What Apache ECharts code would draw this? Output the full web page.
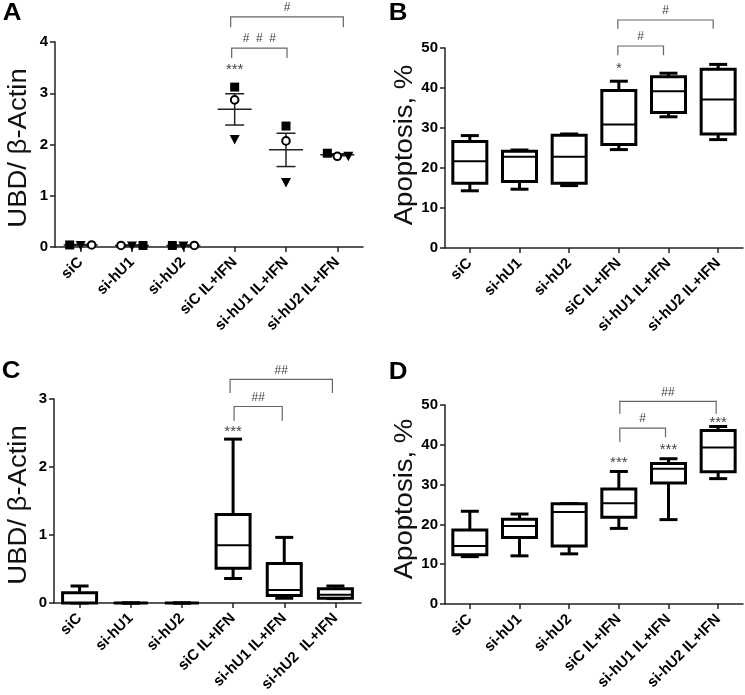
<!DOCTYPE html>
<html><head><meta charset="utf-8">
<script src="https://cdn.jsdelivr.net/npm/echarts@6/dist/echarts.min.js"></script>
<style>html,body{margin:0;padding:0;background:#fff}#c{width:745px;height:695px}</style>
</head><body><div id="c"></div>
<script>
// ---------- data ----------
const categoriesTop = ['siC','si-hU1','si-hU2','siC IL+IFN','si-hU1 IL+IFN','si-hU2 IL+IFN'];
const categoriesC = ['siC','si-hU1','si-hU2','siC IL+IFN','si-hU1 IL+IFN','si-hU2  IL+IFN'];
const categoriesD = ['siC','si-hU1','si-hU2','siC IL+IFN','si-hU1 IL+IFN','si-hU2 IL+IFN'];

// Panel A: individual points (three replicates) and mean ± SEM
const squareA   = [0.04, 0.03, 0.03, 3.12, 2.36, 1.83];
const triangleA = [0.03, 0.02, 0.02, 2.10, 1.26, 1.77];
const circleA   = [0.04, 0.03, 0.03, 2.87, 2.07, 1.77];
const meanA     = [0.04, 0.03, 0.03, 2.69, 1.90, 1.80];
const semLowA   = [0.03, 0.02, 0.02, 2.38, 1.57, 1.78];
const semHighA  = [0.05, 0.04, 0.04, 2.99, 2.22, 1.82];

// Box plots: [min, Q1, median, Q3, max]
const boxB = [
  [14.3, 16.2, 21.7, 26.6, 28.1],
  [14.7, 16.6, 22.8, 24.2, 24.5],
  [15.6, 16.2, 22.8, 28.2, 28.5],
  [24.6, 25.9, 30.9, 39.4, 41.7],
  [32.8, 33.9, 39.2, 42.8, 43.7],
  [27.1, 28.5, 37.1, 44.7, 45.9]
];
const boxC = [
  [0, 0, 0, 0.15, 0.25],
  [0, 0, 0, 0, 0],
  [0, 0, 0, 0, 0],
  [0.36, 0.51, 0.85, 1.30, 2.41],
  [0.07, 0.11, 0.19, 0.58, 0.965],
  [0.065, 0.07, 0.12, 0.21, 0.25]
];
const boxD = [
  [11.9, 12.4, 14.6, 18.6, 23.3],
  [12.1, 16.7, 19.6, 21.3, 22.6],
  [12.6, 14.6, 23.1, 25.2, 25.2],
  [19.0, 21.8, 25.3, 28.9, 33.3],
  [21.2, 30.4, 34.0, 35.3, 36.5],
  [31.5, 33.2, 39.3, 43.6, 44.6]
];

// Significance brackets: [fromCat, toCat, topValue, leftLegEnd, rightLegEnd]
const bracketsA = [[3, 5, 4.49, 4.29, 4.29], [3, 4, 3.88, 3.69, 3.69]];
const bracketTextA = ['#', '#  #  #'];
const bracketsB = [[3, 5, 57.0, 54.8, 54.8], [3, 4, 50.5, 48.2, 48.2]];
const bracketTextB = ['#', '#'];
const bracketsC = [[3, 5, 3.29, 3.09, 3.09], [3, 4, 2.89, 2.68, 2.68]];
const bracketTextC = ['##', '##'];
const bracketsD = [[3, 5, 50.9, 47.8, 47.8], [3, 4, 44.2, 40.7, 41.9]];
const bracketTextD = ['##', '#'];
// Star annotations: [cat, value]
const starsA = [[3, 3.51]]; const starTextA = ['***'];
const starsB = [[3, 45.5]]; const starTextB = ['*'];
const starsC = [[3, 2.56]]; const starTextC = ['***'];
const starsD = [[3, 36.3], [4, 39.6], [5, 46.3]]; const starTextD = ['***', '***', '***'];

// ---------- styling / layout ----------
const FONT = "'Liberation Sans', Arial, Helvetica, sans-serif";
const markerOffsetA = { // horizontal jitter (px) per group
  square:   [-11, 11, -11, 0, 0, -10],
  triangle: [0, 0, 0, 0, 0, 11],
  circle:   [11, -11, 11, 0, 0, 0]
};
const bracketNudge = { A: [[-4, 6], [-3, 1]], B: [[-1, -5], [-1, -5]], C: [[-3, -3], [1, -2]], D: [[1, -2], [1, -3]] };

const grids = [
  { left: 55, top: 42, width: 308, height: 205 },
  { left: 445, top: 48, width: 298, height: 200 },
  { left: 54, top: 399, width: 307, height: 204 },
  { left: 445, top: 405, width: 298, height: 199 }
].map(g => Object.assign({ outerBoundsMode: 'none', containLabel: false }, g));

const axisLine = { show: true, lineStyle: { color: '#222', width: 1.5 } };
function xAxis(gi, cats) {
  return {
    type: 'category', gridIndex: gi, data: cats, boundaryGap: true,
    axisLine: axisLine,
    axisTick: { show: true, alignWithLabel: true, length: 5, lineStyle: { color: '#222', width: 1.5 } },
    axisLabel: { interval: 0, rotate: 45, margin: 13, fontFamily: FONT, fontWeight: 'bold', fontSize: 15, color: '#000' },
    splitLine: { show: false }
  };
}
function yAxis(gi, max, interval) {
  return {
    type: 'value', gridIndex: gi, min: 0, max: max, interval: interval,
    axisLine: axisLine,
    axisTick: { show: true, length: 5, lineStyle: { color: '#222', width: 1.5 } },
    axisLabel: { margin: 7, fontFamily: FONT, fontWeight: 'bold', fontSize: 15, color: '#000' },
    splitLine: { show: false }
  };
}

function boxRender(params, api) {
  const i = api.value(0);
  const v = [api.value(1), api.value(2), api.value(3), api.value(4), api.value(5)];
  const cx = api.coord([i, 0])[0];
  const y = val => api.coord([i, val])[1];
  const hw = 17, cw = 9;
  const st = { stroke: '#000', lineWidth: 3, fill: null };
  return {
    type: 'group', children: [
      { type: 'line', shape: { x1: cx, y1: y(v[0]), x2: cx, y2: y(v[1]) }, style: st },
      { type: 'line', shape: { x1: cx, y1: y(v[3]), x2: cx, y2: y(v[4]) }, style: st },
      { type: 'line', shape: { x1: cx - cw, y1: y(v[0]), x2: cx + cw, y2: y(v[0]) }, style: st },
      { type: 'line', shape: { x1: cx - cw, y1: y(v[4]), x2: cx + cw, y2: y(v[4]) }, style: st },
      { type: 'rect', shape: { x: cx - hw, y: y(v[3]), width: 2 * hw, height: y(v[1]) - y(v[3]) }, style: { stroke: '#000', lineWidth: 3, fill: '#fff' } },
      { type: 'line', shape: { x1: cx - hw, y1: y(v[2]), x2: cx + hw, y2: y(v[2]) }, style: { stroke: '#000', lineWidth: 2 } }
    ]
  };
}
function boxSeries(gi, box) {
  return {
    type: 'custom', xAxisIndex: gi, yAxisIndex: gi, clip: false,
    data: box.map((b, i) => [i].concat(b)),
    encode: { x: 0, y: [1, 2, 3, 4, 5] },
    renderItem: boxRender, z: 3
  };
}
function bracketSeries(gi, list, texts, nudge) {
  return {
    type: 'custom', xAxisIndex: gi, yAxisIndex: gi, clip: false, silent: true, z: 4,
    data: list.map(b => [b[0], b[2]]),
    encode: { x: 0, y: 1 },
    renderItem: function (params, api) {
      const b = list[params.dataIndex];
      const nd = nudge[params.dataIndex];
      const x1 = api.coord([b[0], 0])[0] + nd[0];
      const x2 = api.coord([b[1], 0])[0] + nd[1];
      const yt = api.coord([b[0], b[2]])[1];
      const yl = api.coord([b[0], b[3]])[1];
      const yr = api.coord([b[0], b[4]])[1];
      return {
        type: 'group', children: [
          { type: 'polyline', shape: { points: [[x1, yl], [x1, yt], [x2, yt], [x2, yr]] }, style: { stroke: '#666', lineWidth: 1.2, fill: null } },
          { type: 'text', style: { text: texts[params.dataIndex], x: (x1 + x2) / 2, y: yt - 3, align: 'center', verticalAlign: 'bottom', textAlign: 'center', textVerticalAlign: 'bottom', font: '12px ' + FONT, fill: '#444' } }
        ]
      };
    }
  };
}
function starSeries(gi, list, texts) {
  return {
    type: 'custom', xAxisIndex: gi, yAxisIndex: gi, clip: false, silent: true, z: 4,
    data: list, encode: { x: 0, y: 1 },
    renderItem: function (params, api) {
      const p = api.coord([api.value(0), api.value(1)]);
      return { type: 'text', style: { text: texts[params.dataIndex], x: p[0], y: p[1] + 3, align: 'center', verticalAlign: 'middle', textAlign: 'center', textVerticalAlign: 'middle', font: '15px ' + FONT, fill: '#444' } };
    }
  };
}
function markerSeries(values, shape) {
  return {
    type: 'custom', xAxisIndex: 0, yAxisIndex: 0, clip: false, z: 5,
    data: values.map((v, i) => [i, v]), encode: { x: 0, y: 1 },
    renderItem: function (params, api) {
      const i = api.value(0);
      const p = api.coord([i, api.value(1)]);
      const cx = p[0] + markerOffsetA[shape][i], cy = p[1];
      if (shape === 'square') return { type: 'rect', shape: { x: cx - 4.5, y: cy - 4.5, width: 9, height: 9 }, style: { fill: '#000' } };
      if (shape === 'triangle') return { type: 'polygon', shape: { points: [[cx - 5, cy - 4.5], [cx + 5, cy - 4.5], [cx, cy + 5]] }, style: { fill: '#000' } };
      return { type: 'circle', shape: { cx: cx, cy: cy, r: 3.8 }, style: { fill: '#fff', stroke: '#000', lineWidth: 2 } };
    }
  };
}
const meanSeriesA = {
  type: 'custom', xAxisIndex: 0, yAxisIndex: 0, clip: false, z: 4,
  data: meanA.map((m, i) => [i, m, semLowA[i], semHighA[i]]), encode: { x: 0, y: [1, 2, 3] },
  renderItem: function (params, api) {
    const i = api.value(0);
    const cx = api.coord([i, 0])[0];
    const y = val => api.coord([i, val])[1];
    const st = { stroke: '#222', lineWidth: 1.5 };
    return {
      type: 'group', children: [
        { type: 'line', shape: { x1: cx - 17, y1: y(api.value(1)), x2: cx + 17, y2: y(api.value(1)) }, style: st },
        { type: 'line', shape: { x1: cx, y1: y(api.value(2)), x2: cx, y2: y(api.value(3)) }, style: st },
        { type: 'line', shape: { x1: cx - 9.5, y1: y(api.value(2)), x2: cx + 9.5, y2: y(api.value(2)) }, style: st },
        { type: 'line', shape: { x1: cx - 9.5, y1: y(api.value(3)), x2: cx + 9.5, y2: y(api.value(3)) }, style: st }
      ]
    };
  }
};

function label(text, x, y) {
  return { type: 'text', x: x, y: y, rotation: Math.PI / 2, scaleY: 0.92, style: { text: text, x: 0, y: 0, align: 'center', verticalAlign: 'middle', textAlign: 'center', textVerticalAlign: 'middle', font: '27.5px ' + FONT, fill: '#111' } };
}
function letter(text, x, y) {
  return { type: 'text', x: x, y: y, scaleX: 1.08, style: { text: text, x: 0, y: 0, align: 'center', verticalAlign: 'middle', textAlign: 'center', textVerticalAlign: 'middle', font: 'bold 24px ' + FONT, fill: '#000' } };
}

const chart = echarts.init(document.getElementById('c'), null, { renderer: 'canvas' });
chart.setOption({
  animation: false,
  backgroundColor: '#fff',
  grid: grids,
  xAxis: [xAxis(0, categoriesTop), xAxis(1, categoriesTop), xAxis(2, categoriesC), xAxis(3, categoriesD)],
  yAxis: [yAxis(0, 4, 1), yAxis(1, 50, 10), yAxis(2, 3, 1), yAxis(3, 50, 10)],
  graphic: [
    letter('A', 12, 13), letter('B', 398, 13), letter('C', 11, 371), letter('D', 398, 372),
    label('UBD/ \u03b2-Actin', 19, 148), label('Apoptosis, %', 405, 145),
    label('UBD/ \u03b2-Actin', 19, 505), label('Apoptosis, %', 405, 499)
  ],
  series: [
    meanSeriesA,
    markerSeries(squareA, 'square'), markerSeries(triangleA, 'triangle'), markerSeries(circleA, 'circle'),
    bracketSeries(0, bracketsA, bracketTextA, bracketNudge.A), starSeries(0, starsA, starTextA),
    boxSeries(1, boxB), bracketSeries(1, bracketsB, bracketTextB, bracketNudge.B), starSeries(1, starsB, starTextB),
    boxSeries(2, boxC), bracketSeries(2, bracketsC, bracketTextC, bracketNudge.C), starSeries(2, starsC, starTextC),
    boxSeries(3, boxD), bracketSeries(3, bracketsD, bracketTextD, bracketNudge.D), starSeries(3, starsD, starTextD)
  ]
});
</script></body></html>
